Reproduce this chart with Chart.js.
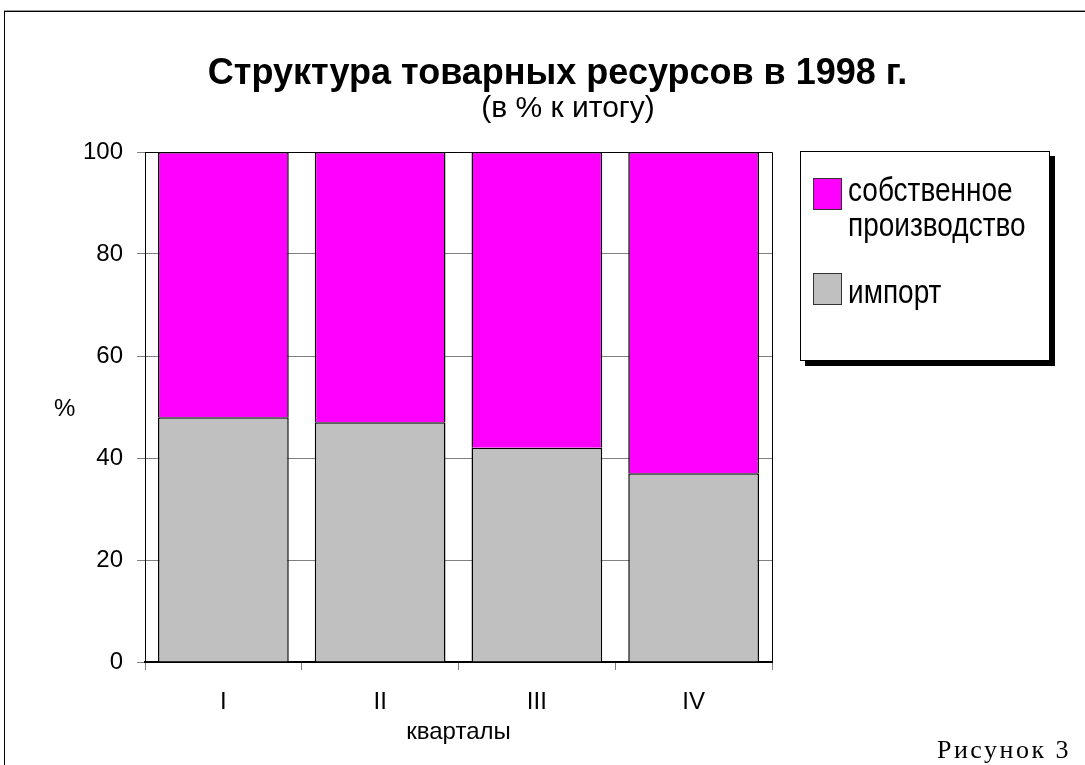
<!DOCTYPE html>
<html lang="ru">
<head>
<meta charset="utf-8">
<script src="https://cdn.jsdelivr.net/npm/chart.js@4/dist/chart.umd.min.js"></script>
<style>
    html, body { margin: 0; padding: 0; background: #fff; }
    body { width: 1085px; height: 765px; position: relative; overflow: hidden; font-family: "Liberation Sans", Arial, sans-serif; }
    #frame { position: absolute; left: 4px; top: 11px; width: 1200px; height: 900px; border-left: 1px solid #000; border-top: 1px solid #000; box-shadow: 0 -1px 0 #999; }
    #chart { position: absolute; left: 0; top: 0; }
    .title { position: absolute; text-align: center; color: #000; white-space: nowrap; }
    #t1 { left: 0; width: 1115px; top: 51px; font-size: 36px; font-weight: bold; }
    #t2 { left: 0; width: 1136px; top: 90px; font-size: 30px; }
    #ylab { position: absolute; left: 54px; top: 394px; font-size: 24px; }
    #legend { position: absolute; left: 800px; top: 151px; width: 248px; height: 208px; border: 1px solid #000; background: #fff; box-shadow: 5px 5px 0 #000; }
    .key { position: absolute; left: 12px; width: 27px; height: 30px; border: 1px solid #333; }
    .ltext { position: absolute; left: 47px; font-size: 28px; line-height: 30px; white-space: nowrap; transform: scaleY(1.18); }
    #fig { position: absolute; left: 937px; top: 735px; font-family: "Liberation Serif", "Times New Roman", serif; font-size: 26px; letter-spacing: 2.5px; }
</style>
</head>
<body>
<div id="frame"></div>
<canvas id="chart" width="1085" height="765"></canvas>
<div class="title" id="t1">Структура товарных ресурсов в 1998 г.</div>
<div class="title" id="t2">(в % к итогу)</div>
<div id="ylab">%</div>
<div id="legend">
    <div class="key" style="top:26px;background:#ff00ff"></div>
    <div class="ltext" style="top:26px">собственное<br>производство</div>
    <div class="key" style="top:121px;background:#c0c0c0"></div>
    <div class="ltext" style="top:125px">импорт</div>
</div>
<div id="fig">Рисунок 3</div>

<script>
// ===== данные =====
const quarters = ['I', 'II', 'III', 'IV'];
const importShare = [48, 47, 42, 37];
const ownShare = [52, 53, 58, 63];
const yTicks = [0, 20, 40, 60, 80, 100];

// рамка области построения (верх и правая сторона)
const plotFrame = {
    id: 'plotFrame',
    beforeDatasetsDraw(chart) {
        const { ctx, chartArea: a } = chart;
        ctx.save();
        ctx.strokeStyle = '#000';
        ctx.lineWidth = 1;
        ctx.beginPath();
        ctx.moveTo(a.left, a.top + 0.5);
        ctx.lineTo(a.right + 0.5, a.top + 0.5);
        ctx.lineTo(a.right + 0.5, a.bottom);
        ctx.stroke();
        ctx.restore();
    }
};

const font = { family: '"Liberation Sans", Arial, sans-serif', size: 24 };

new Chart(document.getElementById('chart'), {
    type: 'bar',
    data: {
        labels: quarters,
        datasets: [
            {
                label: 'импорт',
                data: importShare,
                backgroundColor: '#c0c0c0',
                borderColor: '#000',
                borderWidth: 1.5
            },
            {
                label: 'собственное производство',
                data: ownShare,
                backgroundColor: '#ff00ff',
                borderColor: '#000',
                borderWidth: 1.5
            }
        ]
    },
    options: {
        responsive: false,
        animation: false,
        events: [],
        layout: { padding: { top: 152, right: 313, left: 0, bottom: 0 } },
        categoryPercentage: 1,
        barPercentage: 0.834,
        plugins: {
            legend: { display: false },
            tooltip: { enabled: false }
        },
        scales: {
            x: {
                stacked: true,
                afterFit: s => { s.height = 103; },
                grid: { offset: true, drawOnChartArea: false, tickLength: 8, color: '#808080' },
                border: { color: '#000', width: 2 },
                ticks: { color: '#000', font, padding: 18 },
                title: { display: true, text: 'кварталы', color: '#000', font, padding: { top: 0, bottom: 18 } }
            },
            y: {
                stacked: true,
                min: 0,
                max: 100,
                afterFit: s => { s.width = 145; },
                afterBuildTicks: s => { s.ticks = yTicks.map(v => ({ value: v })); },
                grid: { color: '#808080', tickLength: 8 },
                border: { color: '#000', width: 1 },
                ticks: { color: '#000', font, padding: 14 }
            }
        }
    },
    plugins: [plotFrame]
});
</script>
</body>
</html>
